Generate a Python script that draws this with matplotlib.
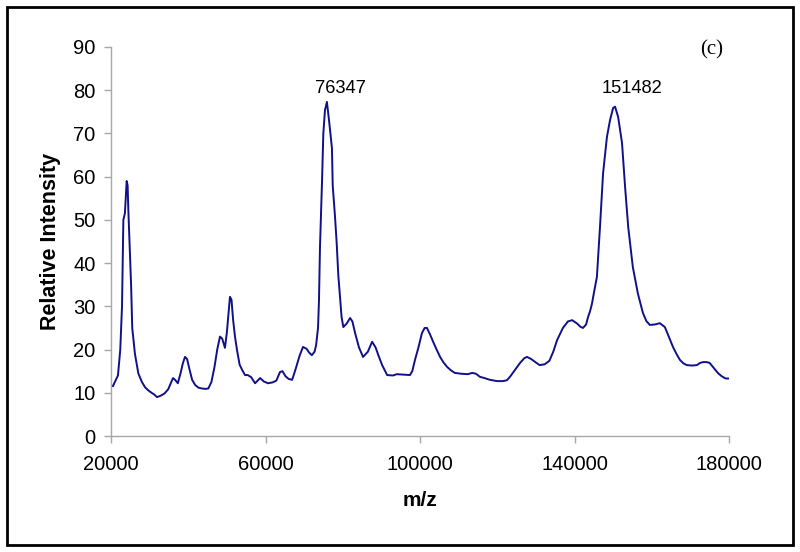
import matplotlib
matplotlib.use("Agg")
import matplotlib.pyplot as plt
from matplotlib.patches import Rectangle

# m/z and relative intensity
mz = [20000, 20500, 21000, 21800, 22400, 22850, 23200, 23600, 24060, 24300, 24500,
      24800, 25200, 25500, 26200, 27070, 28000, 28800, 29600, 30500, 31200, 31900,
      32800, 33800, 34800, 36050, 36600, 37300, 38000, 38600, 39160, 39700, 40300,
      41000, 41800, 42600, 43500, 44500, 45200, 46000, 46800, 47500, 48220, 48800,
      49500, 50000, 50500, 50800, 51200, 51600, 52100, 52600, 53300, 54000, 54700,
      55400, 56300, 57300, 58600, 59600, 60650, 61800, 62800, 63750, 64400, 65200,
      66000, 66900, 67800, 68800, 69700, 70600, 71300, 72000, 72700, 73100, 73600,
      73850, 74100, 74630, 74970, 75400, 75900, 76500, 77200, 77400, 78000, 78430,
      78850, 79300, 79700, 80150, 81000, 81900, 82500, 83200, 84200, 85250, 86500,
      87600, 88500, 89300, 90200, 91500, 93000, 94000, 95700, 97400, 98000, 98700,
      99600, 100500, 101200, 101800, 102600, 103400, 104300, 105200, 106100, 107000,
      108000, 109000, 110700, 112400, 113500, 114500, 115500, 116700, 118100, 120000,
      121500, 122500, 123300, 124600, 125900, 127000, 127700, 128800, 130000, 131000,
      132300, 133500, 134500, 135500, 137000, 138300, 139400, 140700, 141500, 142200,
      143000, 143500, 144000, 144500, 145000, 145800, 146600, 147400, 148400, 149200,
      150000, 150500, 151300, 152300, 153100, 153900, 155100, 156400, 157700, 158600,
      159500, 160800, 162100, 163400, 164400, 165500, 166400, 167300, 168200, 169100,
      170400, 171700, 172500, 173300, 174200, 175000, 176000, 177100, 178000, 178900,
      179300, 180000]
intensity = [11.8, 11.5, 12.5, 14.0, 20.0, 30.0, 50.0, 51.5, 59.0, 58.0, 52.0,
             45.0, 35.0, 25.0, 19.0, 14.5, 12.5, 11.3, 10.6, 10.0, 9.6, 9.0,
             9.3, 9.8, 10.8, 13.4, 13.0, 12.2, 14.5, 16.8, 18.3, 17.8, 15.5,
             13.0, 11.8, 11.2, 11.0, 10.9, 11.0, 12.5, 16.0, 20.0, 23.0, 22.5,
             20.4, 24.0, 29.0, 32.2, 31.5, 27.0, 23.0, 20.0, 16.5, 15.2, 14.1,
             14.1, 13.6, 12.2, 13.4, 12.6, 12.2, 12.4, 12.8, 14.8, 15.0, 13.8,
             13.2, 13.0, 15.5, 18.5, 20.6, 20.2, 19.3, 18.7, 19.5, 21.0, 25.0,
             31.5, 43.5, 58.8, 70.0, 75.4, 77.3, 72.6, 66.6, 58.0, 50.7, 44.6,
             37.2, 31.9, 27.5, 25.2, 26.0, 27.3, 26.5, 23.8, 20.5, 18.3, 19.5,
             21.8, 20.5, 18.5, 16.4, 14.1, 14.0, 14.3, 14.2, 14.1, 15.0, 17.6,
             20.5, 23.8, 25.0, 25.0, 23.5, 21.8, 20.0, 18.3, 17.0, 16.0,
             15.2, 14.6, 14.4, 14.3, 14.6, 14.4, 13.7, 13.4, 13.0, 12.7,
             12.7, 12.9, 13.7, 15.3, 16.9, 18.0, 18.3, 17.8, 17.0, 16.4,
             16.6, 17.4, 19.5, 22.2, 25.0, 26.5, 26.8, 26.0, 25.3, 25.0,
             25.8, 27.5, 28.8, 30.5, 33.0, 36.8, 48.4, 60.8, 69.2, 73.1,
             75.9, 76.2, 73.8, 67.8, 57.6, 48.4, 39.1, 33.0, 28.5, 26.6,
             25.7, 25.8, 26.1, 25.2, 23.0, 20.6, 19.0, 17.6, 16.8, 16.4,
             16.3, 16.4, 16.9, 17.1, 17.1, 16.9, 15.8, 14.6, 13.9, 13.4,
             13.3, 13.3]

x_ticks = [20000, 60000, 100000, 140000, 180000]
y_ticks = [0, 10, 20, 30, 40, 50, 60, 70, 80, 90]
peak_labels = ["76347", "151482"]
peak_pos = [(79290, 80.5), (154900, 80.5)]
panel_label = "(c)"

plt.rcParams['font.family'] = ['Liberation Sans', 'DejaVu Sans']

fig = plt.figure(figsize=(8, 5.52), dpi=100)
ax = fig.add_axes([111/800, 1-436/552, 618/800, 389/552])

ax.plot(mz, intensity, color='#10108a', lw=1.4)

ax.set_xlim(20000, 180000)
ax.set_ylim(0, 90)
ax.set_xticks(x_ticks)
ax.set_yticks(y_ticks)
ax.set_xticklabels([str(v) for v in x_ticks])
ax.set_yticklabels([str(v) for v in y_ticks])

for s in ['top', 'right']:
    ax.spines[s].set_visible(False)
for s in ['left', 'bottom']:
    ax.spines[s].set_color('#a8a8a8')
    ax.spines[s].set_linewidth(1.0)
ax.tick_params(axis='both', direction='out', length=5, width=1, color='#a8a8a8',
               labelsize=14.5, labelcolor='black')
ax.tick_params(axis='x', pad=9)
ax.tick_params(axis='y', pad=6)

ax.set_xlabel('m/z', fontsize=15, fontweight='bold', labelpad=12)
ax.set_ylabel('Relative Intensity', fontsize=15.5, fontweight='bold', labelpad=9)

for lab, (px, py) in zip(peak_labels, peak_pos):
    ax.text(px, py, lab, ha='center', va='center', fontsize=13.2)
ax.text(175600, 89.3, panel_label, ha='center', va='center', fontsize=15,
        family=['Liberation Serif', 'DejaVu Serif'])

fig.patches.append(Rectangle((7/800, 7/552), 786/800, 538/552, transform=fig.transFigure,
                             fill=False, edgecolor='black', lw=2))

fig.savefig('out.png', dpi=100)
